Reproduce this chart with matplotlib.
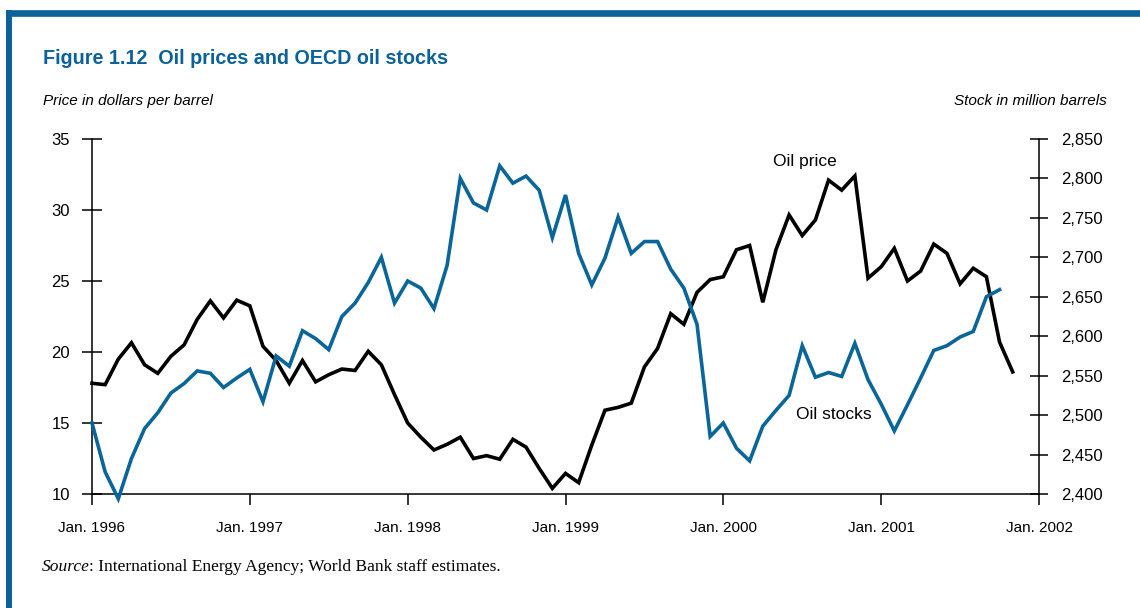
"""Figure 1.12: oil prices and OECD oil stocks, monthly 1996-2001."""
import numpy as np
import matplotlib
matplotlib.use('Agg')
import matplotlib.pyplot as plt
from matplotlib.lines import Line2D
from matplotlib.ticker import FuncFormatter

# monthly values starting Jan. 1996
oil_price = [17.8, 17.7, 19.5, 20.65, 19.1, 18.5, 19.7, 20.5, 22.3, 23.6,
             22.4, 23.65, 23.25, 20.4, 19.4, 17.8, 19.4, 17.9, 18.4, 18.8,
             18.7, 20.05, 19.1, 17.0, 15.0, 14.0, 13.1, 13.5, 14.0, 12.5,
             12.7, 12.45, 13.85, 13.3, 11.8, 10.4, 11.45, 10.8, 13.45, 15.9,
             16.1, 16.4, 18.95, 20.25, 22.7, 21.95, 24.2, 25.1, 25.3, 27.2,
             27.5, 23.5, 27.2, 29.65, 28.2, 29.3, 32.1, 31.4, 32.4, 25.2,
             26.0, 27.3, 25.0, 25.7, 27.6, 26.95, 24.8, 25.9, 25.3, 20.7,
             18.6]
oil_stocks = [2490, 2428, 2394, 2445, 2483, 2503, 2528, 2540, 2556, 2553,
              2535, 2547, 2558, 2517, 2575, 2562, 2607, 2597, 2583, 2625,
              2642, 2668, 2700, 2642, 2670, 2661, 2635, 2690, 2800, 2769,
              2760, 2816, 2794, 2803, 2785, 2725, 2779, 2705, 2665, 2699,
              2751, 2705, 2720, 2720, 2685, 2661, 2615, 2473, 2490, 2458,
              2442, 2486, 2506, 2525, 2588, 2548, 2554, 2549, 2591, 2545,
              2514, 2480, 2513, 2547, 2582, 2588, 2599, 2606, 2650, 2659]
year_labels = ['Jan. 1996', 'Jan. 1997', 'Jan. 1998', 'Jan. 1999',
               'Jan. 2000', 'Jan. 2001', 'Jan. 2002']
price_ticks = [10, 15, 20, 25, 30, 35]
stock_ticks = np.arange(2400, 2851, 50)

BLUE = '#0b629a'
LINE_BLUE = '#0a6699'
SANS = 'Liberation Sans'
SERIF = 'Liberation Serif'

W, H = 1140, 608
fig = plt.figure(figsize=(W / 100, H / 100), dpi=100)

# frame: blue rule on top and on the left
fig.add_artist(Line2D([6 / W, 1], [1 - 13.3 / H] * 2, color=BLUE, lw=4.8,
                      transform=fig.transFigure, solid_capstyle='butt'))
fig.add_artist(Line2D([9 / W] * 2, [0, 1 - 10 / H], color=BLUE, lw=4.3,
                      transform=fig.transFigure, solid_capstyle='butt'))

fig.text(43 / W, 1 - 59 / H, 'Figure 1.12  Oil prices and OECD oil stocks',
         fontsize=14.2, fontweight='bold', color=BLUE, family=SANS,
         va='center')
fig.text(43 / W, 1 - 101 / H, 'Price in dollars per barrel', fontsize=11,
         style='italic', family=SANS, va='center')
fig.text(1107 / W, 1 - 101 / H, 'Stock in million barrels', fontsize=11,
         style='italic', family=SANS, va='center', ha='right')

ax = fig.add_axes([92 / W, 1 - 494 / H, (1039 - 92) / W, (494 - 139) / H])
months = np.arange(len(oil_price))
ax.plot(months, oil_price, color='black', lw=2.6, clip_on=False,
        solid_joinstyle='miter')
ax.set_xlim(0, 72)
ax.set_ylim(10, 35)
ax.set_xticks(np.arange(0, 73, 12))
ax.set_xticklabels(year_labels)
ax.set_yticks(price_ticks)
for s in ['top', 'right']:
    ax.spines[s].set_visible(False)
for s in ['left', 'bottom']:
    ax.spines[s].set_linewidth(1.1)
ax.tick_params(axis='y', direction='inout', length=14.4, width=1.1,
               labelsize=12, pad=8.5)
ax.tick_params(axis='x', direction='out', length=8, width=1.1,
               labelsize=11, pad=11.5)
for lab in ax.get_xticklabels() + ax.get_yticklabels():
    lab.set_family(SANS)

ax2 = ax.twinx()
ax2.plot(np.arange(len(oil_stocks)), oil_stocks, color=LINE_BLUE, lw=2.6,
         clip_on=False, solid_joinstyle='miter')
ax2.set_ylim(2400, 2850)
ax2.set_yticks(stock_ticks)
ax2.yaxis.set_major_formatter(FuncFormatter(lambda v, p: f'{v:,.0f}'))
for s in ['top', 'left', 'bottom']:
    ax2.spines[s].set_visible(False)
ax2.spines['right'].set_linewidth(1.1)
ax2.tick_params(axis='y', direction='inout', length=13, width=1.1,
                labelsize=12, pad=9.5)
for lab in ax2.get_yticklabels():
    lab.set_family(SANS)

ax.text(51.8, 33.4, 'Oil price', fontsize=12.5, family=SANS, va='center')
ax.text(53.5, 15.6, 'Oil stocks', fontsize=12.5, family=SANS, va='center')

src = fig.text(42 / W, 1 - 567 / H, 'Source', fontsize=12.5, style='italic',
               family=SERIF, va='center')
fig.text(0, 0, ': International Energy Agency; World Bank staff estimates.',
         fontsize=12.5, family=SERIF, va='bottom')
# place the roman part right after the italic word
fig.canvas.draw()
bb = src.get_window_extent().transformed(fig.transFigure.inverted())
fig.texts[-1].set_position((bb.x1 - 1 / W, bb.y0))

fig.savefig('out.png', dpi=100)
